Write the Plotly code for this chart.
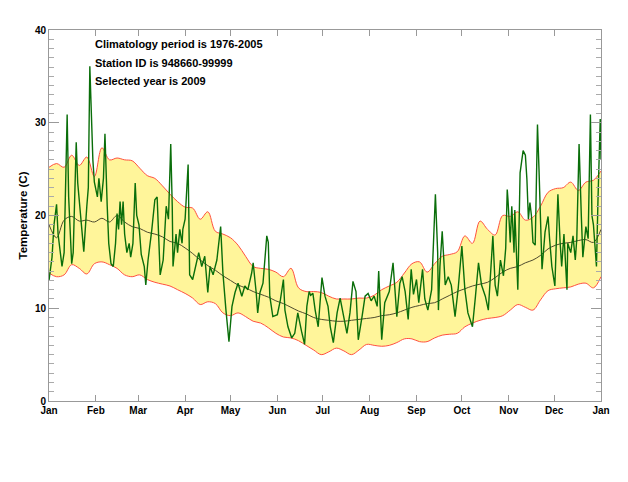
import plotly.graph_objects as go

# climatology band, sampled every 5 days (day of year)
band_day = list(range(0, 366, 5))
band_upper = [
    25.2, 25.6, 25.2, 26.5, 25.4, 26.3, 24.2, 27.3, 26.0, 26.2,
    26.0, 25.9, 25.1, 24.3, 24.0, 23.2, 22.3, 21.5, 20.9, 20.8,
    19.6, 20.4, 18.3, 18.0, 17.6, 16.8, 15.6, 14.5, 14.3, 14.2,
    13.9, 13.4, 14.3, 12.2, 11.8, 11.8, 11.7, 11.3, 11.0, 11.0,
    11.0, 11.1, 11.1, 11.4, 12.0, 12.4, 12.8, 13.8, 14.8, 15.0,
    13.9, 14.8, 15.6, 15.8, 16.1, 17.8, 17.0, 19.4, 18.5, 17.9,
    20.0, 19.9, 20.4, 19.5, 19.8, 21.0, 22.5, 22.9, 23.0, 23.6,
    22.7, 23.6, 23.8, 24.8,
]
band_lower = [
    13.8, 13.4, 13.6, 14.7, 14.3, 13.7, 14.8, 15.0, 14.7, 14.3,
    13.6, 13.4, 13.6, 13.1, 12.8, 12.6, 12.4, 12.0, 11.6, 11.1,
    10.4, 10.7, 10.5, 9.5, 9.2, 9.5, 9.1, 8.6, 8.4, 7.9,
    7.3, 6.9, 6.8, 6.5, 6.0, 5.5, 5.0, 5.3, 5.7, 5.4,
    5.0, 5.5, 6.1, 6.0, 5.9, 6.0, 6.3, 6.7, 6.7, 6.4,
    6.4, 6.8, 7.1, 7.2, 7.3, 8.0, 8.4, 8.7, 8.9, 9.0,
    9.2, 9.8, 10.4, 10.1, 9.8, 10.9, 11.9, 12.1, 12.2, 12.3,
    12.6, 12.7, 12.2, 13.4,
]
band_mean = [
    19.0, 17.6, 19.5, 19.9, 19.4, 19.5, 19.3, 19.7, 19.3, 20.0,
    19.3, 18.8, 18.6, 18.2, 18.0, 17.7, 17.2, 17.0, 16.5, 15.9,
    15.2, 14.6, 14.1, 13.5, 13.0, 12.5, 12.2, 11.8, 11.5, 11.2,
    10.8, 10.5, 10.1, 9.7, 9.4, 9.0, 8.8, 8.7, 8.6, 8.6,
    8.7, 8.8, 8.9, 9.0, 9.2, 9.3, 9.5, 9.8, 10.1, 10.3,
    10.5, 10.6, 11.0, 11.4, 11.8, 12.1, 12.4, 12.6, 12.8, 13.3,
    13.9, 14.3, 14.5, 14.9, 15.2, 15.7, 16.4, 16.8, 17.0, 17.1,
    17.3, 17.4, 17.1, 18.5,
]

# selected year 2009, daily temperatures
year_day = [
    0, 2, 3.3, 5, 6, 7, 8.6, 10, 12, 13, 15, 16, 18, 19, 20.5, 22, 23, 25, 26, 27,
    28, 29, 30, 32, 33, 34.5, 36, 37, 38.5, 39.5, 41, 42.5, 44, 45, 46, 47, 48, 49, 50, 51.5,
    53, 54, 55.5, 57, 58, 59.5, 61, 63, 64, 65.5, 68, 70, 71.5, 72.5, 73.5, 75.5, 77.5, 79, 80.5, 81.5,
    82, 84, 85, 86.5, 88, 88.5, 90, 92, 93, 95, 98, 99, 101, 103, 105, 106.5, 108.5, 111, 113.5, 115,
    117, 119, 121, 123, 125, 127.5, 129.5, 131.5, 134, 135, 137, 138, 139.5, 141.5, 144, 145, 146, 148, 151, 153,
    155, 156, 158, 160.5, 162.5, 164.5, 167, 169, 170.5, 172, 173, 174.5, 176, 178, 180.5, 182.5, 184.5, 186, 188, 190.5,
    192.5, 194.5, 197, 199, 201, 203, 204.5, 207, 209, 211, 213, 215, 217, 218, 220, 222, 225, 227.5, 229, 230,
    232, 233.5, 235.5, 237.5, 239.5, 241, 243, 244.5, 247, 248.5, 250.5, 253, 255.5, 257, 257.5, 258.5, 260, 262, 264, 266,
    268.5, 270.5, 273, 275, 277, 280, 282, 284, 286, 288.5, 290.5, 291.5, 293.5, 295, 296.5, 298.5, 300.5, 302, 303, 303.5,
    305, 306, 307.5, 308, 310, 311.5, 313.5, 315, 316, 317, 318, 319, 320, 321.5, 323, 324, 325, 326, 328, 330,
    331, 332.5, 334.5, 336.5, 338, 339, 340.5, 342.5, 343, 345, 346.5, 348, 349, 350.5, 352, 353, 355, 356.5, 358, 359,
    360, 362, 363, 364.5, 365,
]
year_temp = [
    13.0, 15.5, 19.0, 21.2, 18.0, 16.7, 14.5, 16.0, 30.9, 22.0, 14.8, 16.0, 27.9, 23.5, 20.6, 18.5, 16.1, 21.0, 23.0, 36.1,
    31.0, 26.0, 23.6, 22.0, 24.0, 21.5, 24.0, 28.8, 21.0, 17.0, 14.8, 14.5, 17.0, 20.2, 18.5, 21.5, 19.0, 21.5, 18.0, 16.0,
    17.0, 15.5, 17.0, 23.5, 20.0, 19.0, 15.8, 14.5, 12.5, 15.2, 18.5, 21.7, 22.0, 17.0, 13.6, 15.2, 21.0, 19.6, 27.7, 21.0,
    14.5, 18.0, 16.0, 18.5, 17.0, 18.5, 19.6, 25.5, 13.6, 13.1, 15.2, 16.0, 14.5, 15.6, 11.7, 14.5, 13.6, 15.2, 18.8, 13.8,
    9.8, 6.4, 10.2, 11.7, 12.7, 11.3, 12.4, 12.0, 13.8, 14.9, 11.7, 9.5, 11.7, 12.7, 17.8, 17.1, 11.3, 9.1, 9.3, 10.9,
    13.1, 9.8, 8.0, 6.8, 7.3, 9.5, 7.5, 6.1, 10.2, 11.8, 11.4, 11.6, 9.8, 8.0, 13.3, 11.3, 10.2, 8.0, 6.3, 9.5,
    11.1, 9.5, 7.3, 9.5, 12.9, 11.8, 6.6, 9.1, 11.3, 11.6, 10.8, 11.3, 10.2, 14.0, 6.6, 10.6, 11.8, 14.9, 11.8, 9.1,
    12.7, 13.4, 11.8, 8.8, 14.2, 11.5, 13.1, 10.6, 14.2, 11.0, 9.8, 12.0, 22.3, 16.0, 9.8, 14.5, 18.3, 12.5, 13.4, 12.5,
    9.1, 12.0, 16.7, 12.0, 9.5, 8.0, 11.3, 14.9, 12.5, 11.3, 9.8, 12.5, 17.8, 12.5, 11.3, 15.2, 13.5, 16.5, 22.8, 21.7,
    17.1, 21.0, 16.0, 20.6, 12.0, 24.6, 27.0, 26.5, 23.9, 19.6, 21.4, 20.0, 17.1, 16.8, 29.8, 25.0, 18.2, 14.2, 18.2, 19.9,
    17.5, 14.5, 12.4, 22.3, 17.0, 14.5, 18.0, 12.0, 17.0, 16.0, 17.8, 15.2, 17.5, 27.7, 19.9, 15.5, 18.8, 17.5, 30.9, 20.0,
    19.0, 14.5, 21.7, 30.4, 26.1,
]

month_days = [0, 31, 59, 90, 120, 151, 181, 212, 243, 273, 304, 334, 365]
month_names = ["Jan", "Feb", "Mar", "Apr", "May", "Jun", "Jul",
               "Aug", "Sep", "Oct", "Nov", "Dec", "Jan"]

notes = [
    "Climatology period is 1976-2005",
    "Station ID is 948660-99999",
    "Selected year is 2009",
]

fig = go.Figure()
fig.add_trace(go.Scatter(
    x=band_day, y=band_lower, mode="lines",
    line=dict(color="#ff5040", width=1, shape="spline"),
    hoverinfo="skip",
))
fig.add_trace(go.Scatter(
    x=band_day, y=band_upper, mode="lines", fill="tonexty",
    fillcolor="#fff59a",
    line=dict(color="#ff5040", width=1, shape="spline"),
    hoverinfo="skip",
))
fig.add_trace(go.Scatter(
    x=band_day, y=band_mean, mode="lines",
    line=dict(color="#4d4a2e", width=1, shape="spline"),
))
fig.add_trace(go.Scatter(
    x=year_day, y=year_temp, mode="lines",
    line=dict(color="#0a6e0a", width=1.4),
))

for i, txt in enumerate(notes):
    fig.add_annotation(
        x=0.08, y=0.962 - i * 0.05, xref="paper", yref="paper",
        xanchor="left", yanchor="middle", showarrow=False,
        text="<b>" + txt + "</b>",
        font=dict(size=11, color="black"),
    )

axis_style = dict(
    showline=True, linecolor="#999999", linewidth=1, mirror="ticks",
    ticks="inside", tickcolor="#999999", showgrid=False, zeroline=False,
    tickfont=dict(size=10, color="black"),
)

fig.update_xaxes(
    range=[0, 365], tickvals=month_days,
    ticktext=["<b>" + m + "</b>" for m in month_names],
    ticklen=6, **axis_style,
)
fig.update_yaxes(
    range=[0, 40], tickvals=[0, 10, 20, 30, 40],
    ticktext=["<b>%d</b>" % v for v in [0, 10, 20, 30, 40]],
    ticklen=10,
    minor=dict(dtick=1, ticklen=5, ticks="inside", tickcolor="#aaaaaa"),
    title=dict(text="<b>Temperature (C)</b>", font=dict(size=11.5, color="black"),
               standoff=4),
    **axis_style,
)
fig.update_layout(
    width=612, height=466,
    margin=dict(l=41, r=19, t=22, b=73, autoexpand=False),
    plot_bgcolor="white", paper_bgcolor="white",
    font=dict(family="Liberation Sans, Arial, sans-serif"),
    showlegend=False,
)

fig.write_html("out.html")
